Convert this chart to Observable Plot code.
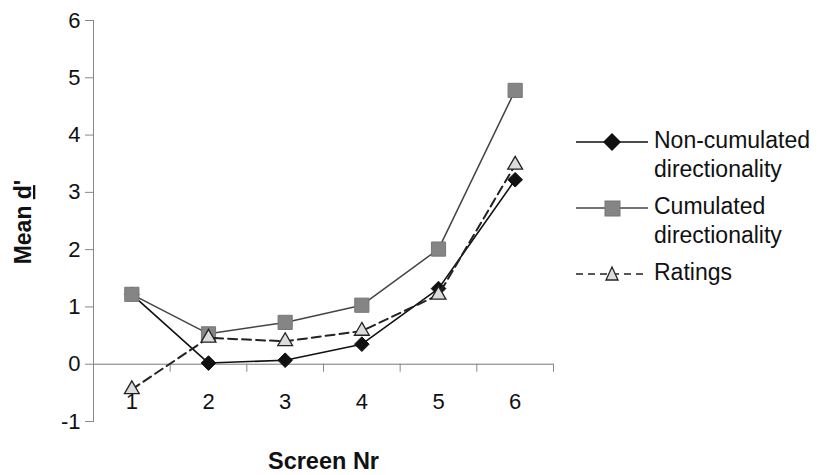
<!DOCTYPE html>
<html>
<head>
<meta charset="utf-8">
<script src="https://cdn.jsdelivr.net/npm/d3@7"></script>
<script src="https://cdn.jsdelivr.net/npm/@observablehq/plot@0.6"></script>
<style>
  html, body { margin: 0; padding: 0; background: #fff; }
  #wrap { position: relative; width: 821px; height: 475px; font-family: "Liberation Sans", Arial, sans-serif; color: #111; }
  #legend { position: absolute; left: 576px; top: 126px; font-size: 23px; line-height: 29px; }
  .row { display: flex; align-items: flex-start; margin-bottom: 8px; }
  .row svg { flex: none; margin-top: 5px; margin-right: 6px; }
</style>
</head>
<body>
<div id="wrap"><div id="legend"></div></div>
<script>
const screens = [1, 2, 3, 4, 5, 6];
const nonCumulated = [1.22, 0.02, 0.07, 0.35, 1.32, 3.22];
const cumulated = [1.22, 0.53, 0.73, 1.03, 2.01, 4.78];
const ratings = [-0.44, 0.46, 0.40, 0.58, 1.21, 3.48];
const yTicks = [-1, 0, 1, 2, 3, 4, 5, 6];
const seriesNames = ["Non-cumulated directionality", "Cumulated directionality", "Ratings"];
const xTitle = "Screen Nr";

const rows = screens.map((s, i) => ({screen: s, non: nonCumulated[i], cum: cumulated[i], rat: ratings[i]}));
const boundaries = [0.5].concat(screens.map(s => s + 0.5));

const chart = Plot.plot({
  width: 821,
  height: 475,
  marginLeft: 93,
  marginRight: 268,
  marginTop: 20,
  marginBottom: 54,
  x: {domain: [0.5, 6.5], axis: null},
  y: {domain: [-1, 6], axis: null},
  style: {fontFamily: "'Liberation Sans', Arial, sans-serif", background: "white", color: "#111"},
  marks: [
    Plot.frame({anchor: "left", stroke: "#888"}),
    Plot.axisY({ticks: yTicks, tickSize: 8, tickPadding: 5, fontSize: 22, stroke: "#888", fill: "#111", label: null, tickFormat: d => d < 0 ? "-" + Math.abs(d) : String(d)}),
    Plot.ruleY([0], {stroke: "#777"}),
    Plot.ruleX(boundaries, {x: d => d, y1: 0, y2: -0.14, stroke: "#888"}),
    Plot.text(screens, {x: d => d, y: 0, dy: 38, text: d => String(d), fontSize: 22, fill: "#111"}),
    Plot.text([xTitle], {frameAnchor: "bottom", lineAnchor: "middle", dy: 40, fontSize: 23.5, fontWeight: "bold", fill: "#111"}),
    // Non-cumulated
    Plot.line(rows, {x: "screen", y: "non", stroke: "#111", strokeWidth: 1.6}),
    Plot.dot(rows, {x: "screen", y: "non", symbol: "diamond2", r: 6.6, fill: "#111", stroke: "#111", strokeWidth: 1}),
    // Cumulated
    Plot.line(rows, {x: "screen", y: "cum", stroke: "#444", strokeWidth: 1.5}),
    Plot.dot(rows, {x: "screen", y: "cum", symbol: "square", r: 8, fill: "#858585", stroke: "#777", strokeWidth: 1}),
    // Ratings
    Plot.line(rows, {x: "screen", y: "rat", stroke: "#222", strokeWidth: 2, strokeDasharray: "9,5"}),
    Plot.dot(rows, {x: "screen", y: "rat", symbol: "triangle", r: 5.5, fill: "#dcdcdc", stroke: "#222", strokeWidth: 1.3})
  ]
});

const svg = d3.select(chart);
// y-axis title with underlined d
const yt = svg.append("text")
  .attr("transform", "translate(25,222) rotate(-90)")
  .attr("text-anchor", "middle")
  .attr("dominant-baseline", "middle")
  .attr("font-size", 23)
  .attr("font-weight", "bold")
  .attr("fill", "#111");
yt.append("tspan").text("Mean ");
yt.append("tspan").attr("text-decoration", "underline").text("d");
yt.append("tspan").text("'");

document.getElementById("wrap").prepend(chart);

// Legend
const legend = d3.select("#legend");
const specs = [
  {name: seriesNames[0], lines: ["Non-cumulated", "directionality"], stroke: "#111", dash: null, symbol: "diamond"},
  {name: seriesNames[1], lines: ["Cumulated", "directionality"], stroke: "#444", dash: null, symbol: "square"},
  {name: seriesNames[2], lines: ["Ratings"], stroke: "#222", dash: "7,5", symbol: "triangle"}
];
specs.forEach(s => {
  const row = legend.append("div").attr("class", "row");
  const sw = row.append("svg").attr("width", 72).attr("height", 22);
  sw.append("line").attr("x1", 0).attr("x2", 72).attr("y1", 11).attr("y2", 11)
    .attr("stroke", s.stroke).attr("stroke-width", 1.5).attr("stroke-dasharray", s.dash);
  if (s.symbol === "diamond") {
    sw.append("path").attr("d", "M36,2L45,11L36,20L27,11Z").attr("fill", "#111");
  } else if (s.symbol === "square") {
    sw.append("rect").attr("x", 29).attr("y", 4).attr("width", 15).attr("height", 15).attr("fill", "#858585").attr("stroke", "#777");
  } else {
    sw.append("path").attr("d", "M36,4L42,17L30,17Z").attr("fill", "#dcdcdc").attr("stroke", "#222").attr("stroke-width", 1.3);
  }
  const t = row.append("div");
  s.lines.forEach(l => t.append("div").text(l));
});
</script>
</body>
</html>
